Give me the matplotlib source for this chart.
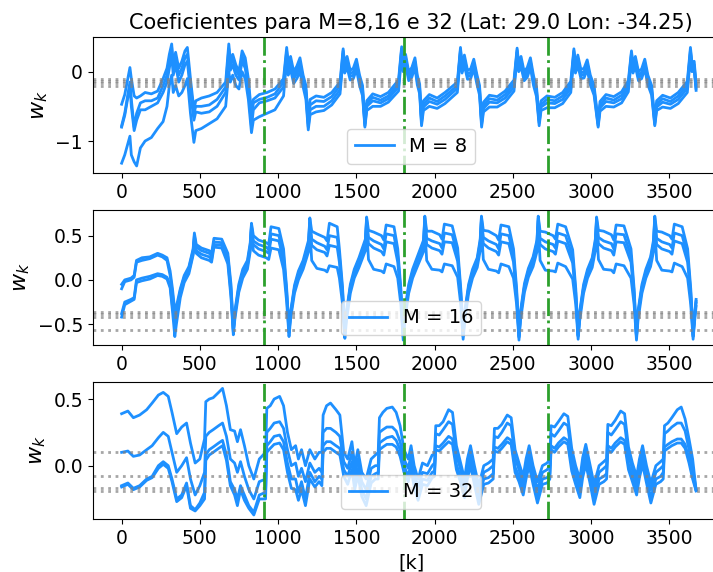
import numpy as np
import matplotlib
matplotlib.use('Agg')
from matplotlib import pyplot as plt

# ---- M = 8 coefficients (4 weights) ----
k8 = [0, 20, 53, 62, 80, 96, 120, 150, 190, 230, 265, 290, 305,
      320, 330, 345, 365, 385, 405, 420, 440, 462, 474, 510, 560, 610, 665,
      685, 695, 710, 730, 750, 770, 790, 810, 830, 842, 880, 930, 980, 1035,
      1055, 1065, 1080, 1100, 1120, 1140, 1160, 1178, 1193, 1205, 1243, 1293, 1343, 1396,
      1416, 1426, 1441, 1461, 1481, 1501, 1521, 1540, 1555, 1567, 1605, 1655, 1705, 1770,
      1790, 1800, 1815, 1835, 1855, 1875, 1890, 1905, 1917, 1929, 1967, 2017, 2067, 2146,
      2166, 2176, 2191, 2211, 2231, 2251, 2271, 2288, 2301, 2313, 2351, 2401, 2451, 2508,
      2528, 2538, 2553, 2573, 2593, 2613, 2633, 2652, 2669, 2681, 2719, 2769, 2819, 2871,
      2891, 2901, 2916, 2936, 2956, 2976, 2996, 3020, 3046, 3058, 3096, 3146, 3196, 3239,
      3259, 3269, 3284, 3304, 3324, 3344, 3364, 3388, 3408, 3420, 3458, 3508, 3558, 3616,
      3636, 3646, 3660, 3672]
w8_a = [-0.47, -0.33, 0.06, -0.10, -0.35, -0.38, -0.35, -0.30, -0.32, -0.28, -0.10, 0.05, 0.25,
        0.40, 0.10, 0.28, 0.05, 0.15, 0.30, 0.35, -0.10, -0.55, -0.42, -0.38, -0.35, -0.30, -0.15,
        0.40, 0.15, 0.25, 0.10, 0.00, 0.30, 0.20, -0.10, -0.60, -0.40, -0.33, -0.30, -0.25, -0.10,
        0.35, 0.12, 0.22, 0.00, 0.08, 0.20, -0.05, -0.20, -0.70, -0.40, -0.35, -0.37, -0.30, -0.15,
        0.33, 0.10, 0.22, 0.02, 0.05, 0.18, -0.05, -0.20, -0.72, -0.42, -0.32, -0.36, -0.30, -0.12,
        0.36, 0.12, 0.25, 0.00, 0.06, 0.20, -0.05, -0.18, -0.68, -0.42, -0.33, -0.38, -0.30, -0.15,
        0.35, 0.10, 0.24, 0.02, 0.04, 0.18, -0.04, -0.20, -0.70, -0.44, -0.34, -0.36, -0.28, -0.12,
        0.34, 0.12, 0.22, 0.00, 0.06, 0.20, -0.06, -0.22, -0.68, -0.42, -0.35, -0.37, -0.30, -0.14,
        0.33, 0.10, 0.24, 0.03, 0.05, 0.17, -0.05, -0.20, -0.72, -0.43, -0.33, -0.36, -0.29, -0.13,
        0.30, 0.10, 0.22, 0.00, 0.04, 0.18, -0.05, -0.20, -0.70, -0.42, -0.34, -0.38, -0.30, -0.14,
        0.35, 0.12, 0.15, -0.18]
w8_b = [-0.78, -0.60, -0.15, -0.40, -0.80, -0.60, -0.45, -0.42, -0.42, -0.38, -0.20, -0.05, 0.15,
        0.35, 0.05, 0.20, -0.05, 0.05, 0.20, 0.25, -0.20, -0.60, -0.50, -0.50, -0.48, -0.40, -0.22,
        0.33, 0.10, 0.18, 0.02, -0.05, 0.22, 0.12, -0.18, -0.70, -0.45, -0.40, -0.37, -0.32, -0.15,
        0.30, 0.08, 0.15, -0.05, 0.02, 0.13, -0.10, -0.27, -0.75, -0.48, -0.42, -0.43, -0.36, -0.20,
        0.30, 0.07, 0.17, -0.03, 0.00, 0.13, -0.10, -0.25, -0.75, -0.46, -0.37, -0.41, -0.35, -0.17,
        0.33, 0.08, 0.20, -0.05, 0.01, 0.15, -0.10, -0.23, -0.71, -0.47, -0.38, -0.43, -0.35, -0.20,
        0.32, 0.06, 0.19, -0.03, -0.01, 0.13, -0.09, -0.25, -0.73, -0.49, -0.39, -0.41, -0.33, -0.17,
        0.31, 0.08, 0.17, -0.05, 0.01, 0.15, -0.11, -0.27, -0.71, -0.47, -0.40, -0.42, -0.35, -0.19,
        0.30, 0.06, 0.19, -0.02, 0.00, 0.12, -0.10, -0.25, -0.75, -0.48, -0.38, -0.41, -0.34, -0.18,
        0.27, 0.06, 0.17, -0.05, -0.01, 0.13, -0.10, -0.25, -0.73, -0.47, -0.39, -0.43, -0.35, -0.19,
        0.31, 0.08, 0.10, -0.21]
w8_c = [-0.80, -0.63, -0.20, -0.50, -0.85, -0.70, -0.55, -0.55, -0.50, -0.45, -0.30, -0.15, 0.05,
        0.25, -0.05, 0.10, -0.15, -0.05, 0.10, 0.15, -0.30, -0.70, -0.58, -0.60, -0.58, -0.50, -0.30,
        0.25, 0.02, 0.10, -0.05, -0.12, 0.15, 0.05, -0.25, -0.80, -0.55, -0.45, -0.42, -0.38, -0.22,
        0.25, 0.03, 0.10, -0.10, -0.03, 0.08, -0.15, -0.32, -0.80, -0.55, -0.50, -0.50, -0.42, -0.26,
        0.26, 0.03, 0.12, -0.07, -0.05, 0.09, -0.14, -0.30, -0.78, -0.50, -0.42, -0.45, -0.39, -0.22,
        0.30, 0.05, 0.16, -0.09, -0.03, 0.11, -0.14, -0.27, -0.74, -0.51, -0.43, -0.47, -0.40, -0.24,
        0.29, 0.03, 0.15, -0.07, -0.05, 0.09, -0.13, -0.29, -0.76, -0.53, -0.44, -0.45, -0.38, -0.22,
        0.28, 0.05, 0.13, -0.09, -0.03, 0.11, -0.15, -0.31, -0.74, -0.51, -0.45, -0.46, -0.40, -0.24,
        0.27, 0.03, 0.15, -0.06, -0.04, 0.08, -0.14, -0.29, -0.78, -0.52, -0.43, -0.45, -0.39, -0.23,
        0.24, 0.03, 0.13, -0.09, -0.05, 0.09, -0.14, -0.29, -0.76, -0.51, -0.44, -0.47, -0.40, -0.24,
        0.27, 0.05, 0.06, -0.24]
w8_d = [-1.32, -1.20, -0.93, -1.20, -1.30, -1.36, -1.10, -1.00, -0.95, -0.82, -0.72, -0.50, -0.20,
        -0.05, -0.30, -0.20, -0.35, -0.30, -0.20, -0.10, -0.60, -1.02, -0.85, -0.82, -0.75, -0.68, -0.50,
        0.00, -0.15, -0.05, -0.20, -0.25, 0.00, -0.10, -0.40, -0.88, -0.70, -0.65, -0.60, -0.55, -0.35,
        0.18, -0.05, 0.03, -0.17, -0.10, 0.00, -0.22, -0.40, -0.84, -0.62, -0.58, -0.56, -0.48, -0.32,
        0.20, -0.02, 0.06, -0.12, -0.10, 0.03, -0.20, -0.35, -0.80, -0.56, -0.50, -0.50, -0.44, -0.28,
        0.25, 0.00, 0.10, -0.13, -0.08, 0.06, -0.19, -0.32, -0.78, -0.56, -0.50, -0.53, -0.46, -0.30,
        0.24, -0.02, 0.09, -0.11, -0.10, 0.04, -0.18, -0.34, -0.80, -0.58, -0.51, -0.51, -0.44, -0.28,
        0.23, 0.00, 0.07, -0.13, -0.08, 0.06, -0.20, -0.36, -0.78, -0.56, -0.52, -0.52, -0.46, -0.30,
        0.22, -0.02, 0.09, -0.10, -0.09, 0.03, -0.19, -0.34, -0.80, -0.57, -0.50, -0.51, -0.45, -0.29,
        0.19, -0.02, 0.07, -0.13, -0.10, 0.04, -0.19, -0.34, -0.78, -0.56, -0.51, -0.53, -0.46, -0.30,
        0.22, 0.00, 0.02, -0.27]

# ---- M = 16 coefficients ----
k16 = [0, 20, 60, 80, 95, 130, 180, 230, 260, 290, 310, 325,
       340, 350, 375, 400, 430, 457, 465, 477, 510, 560, 575, 590, 640, 679, 699,
       714, 724, 749, 774, 804, 822, 830, 842, 875, 925, 940, 955, 1005, 1035, 1055,
       1070, 1080, 1105, 1130, 1160, 1195, 1203, 1215, 1248, 1298, 1313, 1328, 1378, 1392, 1412,
       1427, 1437, 1462, 1487, 1517, 1558, 1566, 1578, 1611, 1661, 1676, 1691, 1741, 1765, 1785,
       1800, 1810, 1835, 1860, 1890, 1930, 1938, 1950, 1983, 2033, 2048, 2063, 2113, 2148, 2168,
       2183, 2193, 2218, 2243, 2273, 2292, 2300, 2312, 2345, 2395, 2410, 2425, 2475, 2505, 2525,
       2540, 2550, 2575, 2600, 2630, 2655, 2663, 2675, 2708, 2758, 2773, 2788, 2838, 2883, 2903,
       2918, 2928, 2953, 2978, 3008, 3028, 3036, 3048, 3081, 3131, 3146, 3161, 3211, 3256, 3276,
       3291, 3301, 3326, 3351, 3381, 3400, 3408, 3420, 3453, 3503, 3518, 3533, 3583, 3618, 3638,
       3653, 3663, 3672]
w16_a = [-0.05, 0.00, 0.02, 0.05, 0.22, 0.25, 0.26, 0.30, 0.28, 0.25, 0.10, -0.10,
         -0.35, -0.30, -0.10, 0.05, 0.15, 0.35, 0.53, 0.40, 0.36, 0.33, 0.30, 0.47, 0.46, 0.30, -0.05,
         -0.55, -0.35, -0.05, 0.12, 0.22, 0.42, 0.64, 0.50, 0.45, 0.42, 0.40, 0.60, 0.58, 0.35, -0.10,
         -0.56, -0.36, -0.06, 0.10, 0.22, 0.45, 0.70, 0.55, 0.52, 0.48, 0.44, 0.64, 0.60, 0.35, -0.08,
         -0.58, -0.36, -0.05, 0.12, 0.25, 0.46, 0.71, 0.56, 0.54, 0.50, 0.45, 0.62, 0.60, 0.35, -0.10,
         -0.60, -0.35, -0.05, 0.12, 0.26, 0.45, 0.72, 0.55, 0.55, 0.51, 0.46, 0.63, 0.61, 0.36, -0.10,
         -0.62, -0.36, -0.05, 0.12, 0.25, 0.46, 0.72, 0.56, 0.55, 0.50, 0.45, 0.62, 0.60, 0.35, -0.10,
         -0.63, -0.35, -0.04, 0.13, 0.26, 0.45, 0.72, 0.55, 0.54, 0.50, 0.46, 0.63, 0.60, 0.34, -0.10,
         -0.62, -0.36, -0.05, 0.12, 0.25, 0.46, 0.71, 0.56, 0.55, 0.51, 0.45, 0.62, 0.61, 0.35, -0.10,
         -0.63, -0.35, -0.05, 0.12, 0.26, 0.45, 0.72, 0.55, 0.54, 0.50, 0.46, 0.63, 0.60, 0.35, -0.10,
         -0.60, -0.38, -0.22]
w16_b = [-0.10, -0.02, 0.00, 0.03, 0.20, 0.22, 0.24, 0.28, 0.26, 0.22, 0.05, -0.15,
         -0.42, -0.36, -0.12, 0.03, 0.13, 0.33, 0.50, 0.37, 0.33, 0.30, 0.27, 0.43, 0.42, 0.26, -0.10,
         -0.57, -0.38, -0.08, 0.09, 0.19, 0.39, 0.62, 0.44, 0.40, 0.37, 0.34, 0.52, 0.50, 0.28, -0.14,
         -0.58, -0.38, -0.09, 0.07, 0.19, 0.42, 0.68, 0.46, 0.42, 0.38, 0.34, 0.50, 0.48, 0.27, -0.13,
         -0.60, -0.39, -0.08, 0.09, 0.22, 0.43, 0.69, 0.48, 0.44, 0.40, 0.35, 0.52, 0.50, 0.27, -0.15,
         -0.62, -0.38, -0.08, 0.09, 0.23, 0.42, 0.70, 0.47, 0.44, 0.41, 0.36, 0.53, 0.51, 0.28, -0.15,
         -0.63, -0.39, -0.08, 0.09, 0.22, 0.43, 0.70, 0.48, 0.44, 0.40, 0.35, 0.52, 0.50, 0.27, -0.15,
         -0.64, -0.38, -0.07, 0.10, 0.23, 0.42, 0.70, 0.47, 0.43, 0.40, 0.36, 0.53, 0.50, 0.26, -0.15,
         -0.63, -0.39, -0.08, 0.09, 0.22, 0.43, 0.69, 0.48, 0.44, 0.41, 0.35, 0.52, 0.51, 0.27, -0.15,
         -0.64, -0.38, -0.08, 0.09, 0.23, 0.42, 0.70, 0.47, 0.43, 0.40, 0.36, 0.53, 0.50, 0.27, -0.15,
         -0.62, -0.40, -0.24]
w16_c = [-0.38, -0.25, -0.22, -0.20, 0.00, 0.02, 0.04, 0.07, 0.06, 0.03, -0.06, -0.30,
         -0.50, -0.42, -0.15, 0.00, 0.10, 0.30, 0.46, 0.33, 0.29, 0.26, 0.23, 0.40, 0.39, 0.22, -0.15,
         -0.59, -0.40, -0.10, 0.06, 0.16, 0.36, 0.60, 0.40, 0.35, 0.32, 0.30, 0.46, 0.44, 0.22, -0.18,
         -0.60, -0.40, -0.11, 0.04, 0.16, 0.38, 0.65, 0.39, 0.34, 0.31, 0.27, 0.39, 0.37, 0.20, -0.19,
         -0.62, -0.41, -0.10, 0.06, 0.19, 0.39, 0.66, 0.41, 0.36, 0.32, 0.28, 0.43, 0.41, 0.20, -0.20,
         -0.64, -0.40, -0.10, 0.06, 0.20, 0.38, 0.67, 0.40, 0.36, 0.33, 0.29, 0.43, 0.42, 0.21, -0.20,
         -0.64, -0.41, -0.10, 0.06, 0.19, 0.39, 0.67, 0.41, 0.36, 0.32, 0.28, 0.43, 0.41, 0.20, -0.20,
         -0.65, -0.40, -0.09, 0.07, 0.20, 0.38, 0.67, 0.40, 0.35, 0.32, 0.29, 0.44, 0.41, 0.19, -0.20,
         -0.64, -0.41, -0.10, 0.06, 0.19, 0.39, 0.66, 0.41, 0.36, 0.33, 0.28, 0.43, 0.42, 0.20, -0.20,
         -0.65, -0.40, -0.10, 0.06, 0.20, 0.38, 0.67, 0.40, 0.35, 0.32, 0.29, 0.44, 0.41, 0.20, -0.20,
         -0.64, -0.42, -0.26]
w16_d = [-0.42, -0.28, -0.24, -0.22, -0.03, -0.01, 0.01, 0.05, 0.04, 0.01, -0.09, -0.35,
         -0.64, -0.50, -0.20, -0.03, 0.07, 0.28, 0.44, 0.30, 0.25, 0.22, 0.20, 0.37, 0.36, 0.18, -0.20,
         -0.62, -0.44, -0.14, 0.02, 0.12, 0.32, 0.56, 0.33, 0.28, 0.25, 0.23, 0.36, 0.34, 0.12, -0.25,
         -0.64, -0.44, -0.15, 0.00, 0.12, 0.32, 0.58, 0.22, 0.13, 0.11, 0.09, 0.16, 0.14, 0.02, -0.27,
         -0.66, -0.46, -0.15, 0.02, 0.14, 0.33, 0.59, 0.23, 0.12, 0.10, 0.08, 0.18, 0.15, 0.02, -0.28,
         -0.68, -0.45, -0.15, 0.02, 0.15, 0.32, 0.60, 0.22, 0.12, 0.11, 0.09, 0.18, 0.16, 0.03, -0.28,
         -0.67, -0.46, -0.15, 0.02, 0.14, 0.33, 0.60, 0.23, 0.12, 0.10, 0.08, 0.18, 0.15, 0.02, -0.28,
         -0.68, -0.45, -0.14, 0.03, 0.15, 0.32, 0.60, 0.22, 0.11, 0.10, 0.09, 0.19, 0.15, 0.01, -0.28,
         -0.67, -0.46, -0.15, 0.02, 0.14, 0.33, 0.59, 0.23, 0.12, 0.11, 0.08, 0.18, 0.16, 0.02, -0.28,
         -0.68, -0.45, -0.15, 0.02, 0.15, 0.32, 0.60, 0.22, 0.11, 0.10, 0.09, 0.19, 0.15, 0.02, -0.28,
         -0.67, -0.46, -0.30]

# ---- M = 32 coefficients ----
k32 = [0, 40, 75, 115, 160, 195, 235, 266, 298, 322, 352, 384, 415, 440, 470, 500,
       530, 538, 560, 585, 620, 645, 670, 695, 722, 740, 760, 785, 813, 845, 880,
       920, 928, 950, 975, 1010, 1035, 1060, 1085, 1112, 1130, 1150, 1175, 1203, 1235, 1262,
       1280, 1288, 1310, 1335, 1370, 1395, 1420, 1445, 1472, 1490, 1510, 1535, 1563, 1595, 1622,
       1640, 1648, 1670, 1695, 1730, 1755, 1780, 1805, 1832, 1850, 1870, 1895, 1923, 1955, 1985,
       2000, 2008, 2030, 2055, 2090, 2115, 2140, 2165, 2192, 2210, 2230, 2255, 2283, 2315, 2345,
       2375, 2383, 2405, 2430, 2465, 2490, 2515, 2540, 2567, 2585, 2605, 2630, 2658, 2690, 2720,
       2737, 2745, 2767, 2792, 2827, 2852, 2877, 2902, 2929, 2947, 2967, 2992, 3020, 3052, 3082,
       3100, 3108, 3130, 3155, 3190, 3215, 3240, 3265, 3292, 3310, 3330, 3355, 3383, 3415, 3445,
       3462, 3470, 3492, 3517, 3552, 3577, 3602, 3627, 3650, 3672]
w32_a = [0.39, 0.41, 0.36, 0.38, 0.42, 0.47, 0.53, 0.55, 0.52, 0.40, 0.24, 0.29, 0.32, 0.17, 0.02, 0.05,
         0.20, 0.48, 0.50, 0.51, 0.55, 0.58, 0.45, 0.27, 0.26, 0.18, 0.27, 0.15, 0.00, -0.10, 0.05,
         0.10, 0.43, 0.45, 0.50, 0.52, 0.45, 0.25, 0.12, 0.15, 0.05, 0.12, 0.00, 0.12, 0.05, 0.10,
         0.10, 0.38, 0.45, 0.47, 0.42, 0.38, 0.10, 0.05, 0.18, 0.00, 0.12, -0.05, -0.10, 0.05, 0.08,
         0.10, 0.36, 0.40, 0.43, 0.44, 0.40, 0.30, 0.12, 0.05, 0.15, 0.00, -0.10, 0.02, 0.00, 0.08,
         0.08, 0.30, 0.30, 0.33, 0.42, 0.40, 0.15, 0.03, -0.10, 0.05, 0.15, 0.00, -0.15, 0.00, 0.02,
         0.05, 0.28, 0.28, 0.31, 0.38, 0.36, 0.12, 0.02, -0.08, 0.05, 0.15, 0.00, -0.12, 0.00, 0.02,
         0.05, 0.30, 0.29, 0.33, 0.39, 0.37, 0.13, 0.00, -0.10, 0.06, 0.16, 0.02, -0.14, 0.00, 0.03,
         0.05, 0.31, 0.30, 0.34, 0.41, 0.39, 0.14, 0.02, -0.08, 0.05, 0.15, 0.00, -0.13, 0.00, 0.03,
         0.05, 0.30, 0.32, 0.36, 0.42, 0.44, 0.35, 0.20, 0.05, -0.18]
w32_b = [0.10, 0.11, 0.07, 0.08, 0.12, 0.15, 0.21, 0.25, 0.22, 0.10, -0.05, 0.00, 0.06, -0.10, -0.22, -0.15,
         -0.05, 0.22, 0.25, 0.27, 0.30, 0.32, 0.22, 0.05, 0.02, -0.05, 0.03, -0.08, -0.18, -0.25, -0.12,
         -0.10, 0.25, 0.28, 0.32, 0.33, 0.28, 0.12, 0.00, 0.02, -0.08, -0.02, -0.12, 0.02, -0.05, -0.02,
         -0.05, 0.25, 0.28, 0.28, 0.25, 0.22, 0.03, -0.02, 0.10, -0.07, 0.05, -0.12, -0.18, -0.02, 0.00,
         0.00, 0.25, 0.27, 0.29, 0.29, 0.26, 0.18, 0.05, -0.02, 0.08, -0.06, -0.16, -0.05, -0.06, 0.00,
         0.02, 0.24, 0.23, 0.27, 0.33, 0.31, 0.08, -0.02, -0.15, 0.00, 0.10, -0.05, -0.20, -0.05, -0.03,
         0.00, 0.22, 0.21, 0.25, 0.32, 0.30, 0.06, -0.03, -0.13, 0.00, 0.10, -0.05, -0.18, -0.05, -0.03,
         0.00, 0.24, 0.22, 0.26, 0.32, 0.30, 0.07, -0.05, -0.15, 0.01, 0.11, -0.03, -0.19, -0.05, -0.02,
         0.00, 0.25, 0.23, 0.27, 0.33, 0.31, 0.08, -0.03, -0.13, 0.00, 0.10, -0.05, -0.18, -0.05, -0.02,
         0.00, 0.24, 0.26, 0.29, 0.32, 0.32, 0.26, 0.12, -0.02, -0.18]
w32_c = [-0.15, -0.13, -0.17, -0.15, -0.10, -0.08, 0.00, 0.03, 0.00, -0.10, -0.25, -0.22, -0.13, -0.30, -0.33, -0.28,
         -0.20, 0.08, 0.12, 0.14, 0.17, 0.19, 0.08, -0.12, -0.18, -0.25, -0.15, -0.22, -0.30, -0.35, -0.22,
         -0.20, 0.15, 0.18, 0.22, 0.23, 0.18, 0.02, -0.10, -0.10, -0.20, -0.12, -0.25, -0.05, -0.12, -0.08,
         -0.10, 0.15, 0.18, 0.18, 0.15, 0.13, -0.03, -0.08, 0.03, -0.13, -0.02, -0.18, -0.25, -0.08, -0.06,
         -0.05, 0.17, 0.19, 0.21, 0.22, 0.19, 0.12, 0.00, -0.08, 0.02, -0.12, -0.22, -0.10, -0.11, -0.05,
         -0.04, 0.15, 0.14, 0.17, 0.22, 0.20, 0.01, -0.08, -0.20, -0.05, 0.05, -0.10, -0.25, -0.10, -0.09,
         -0.06, 0.14, 0.13, 0.16, 0.21, 0.19, -0.01, -0.08, -0.18, -0.05, 0.05, -0.10, -0.24, -0.10, -0.09,
         -0.06, 0.15, 0.13, 0.17, 0.21, 0.19, 0.00, -0.10, -0.20, -0.04, 0.06, -0.08, -0.25, -0.10, -0.08,
         -0.06, 0.15, 0.13, 0.17, 0.21, 0.19, 0.01, -0.08, -0.18, -0.05, 0.05, -0.10, -0.24, -0.10, -0.08,
         -0.05, 0.14, 0.16, 0.18, 0.20, 0.20, 0.16, 0.05, -0.08, -0.18]
w32_d = [-0.16, -0.14, -0.18, -0.16, -0.11, -0.09, -0.02, 0.01, -0.02, -0.12, -0.27, -0.24, -0.15, -0.32, -0.34, -0.30,
         -0.25, 0.04, 0.08, 0.10, 0.13, 0.15, 0.04, -0.15, -0.22, -0.30, -0.18, -0.26, -0.32, -0.37, -0.25,
         -0.25, 0.10, 0.13, 0.16, 0.17, 0.12, -0.05, -0.17, -0.18, -0.26, -0.18, -0.30, -0.10, -0.16, -0.12,
         -0.15, 0.10, 0.13, 0.13, 0.10, 0.08, -0.08, -0.14, -0.03, -0.18, -0.07, -0.23, -0.30, -0.13, -0.10,
         -0.10, 0.12, 0.14, 0.16, 0.16, 0.14, 0.07, -0.05, -0.12, -0.03, -0.16, -0.26, -0.14, -0.15, -0.09,
         -0.08, 0.12, 0.11, 0.14, 0.18, 0.16, -0.03, -0.12, -0.24, -0.10, 0.00, -0.14, -0.29, -0.14, -0.13,
         -0.10, 0.11, 0.10, 0.13, 0.18, 0.16, -0.05, -0.12, -0.22, -0.10, 0.00, -0.14, -0.28, -0.14, -0.13,
         -0.10, 0.12, 0.10, 0.14, 0.18, 0.16, -0.04, -0.14, -0.24, -0.09, 0.01, -0.12, -0.29, -0.14, -0.12,
         -0.10, 0.12, 0.10, 0.14, 0.18, 0.16, -0.03, -0.12, -0.22, -0.09, 0.01, -0.13, -0.28, -0.14, -0.12,
         -0.10, 0.11, 0.13, 0.15, 0.17, 0.17, 0.13, 0.02, -0.10, -0.19]

# reference levels (dotted) and split positions (dash-dot)
ref8 = [-0.11, -0.14, -0.17, -0.20]
ref16 = [-0.358, -0.387, -0.418, -0.564]
ref32 = [0.10, -0.077, -0.17, -0.19]
splits = [910, 1805, 2725]

panels = [
    (8, k8, [w8_a, w8_b, w8_c, w8_d], ref8, (-1.466, 0.496), [-1, 0]),
    (16, k16, [w16_a, w16_b, w16_c, w16_d], ref16, (-0.734, 0.79), [-0.5, 0.0, 0.5]),
    (32, k32, [w32_a, w32_b, w32_c, w32_d], ref32, (-0.40, 0.626), [0.0, 0.5]),
]

fig = plt.figure(figsize=(7.13, 5.72), dpi=100)
bottoms = [0.697, 0.397, 0.0927]
heights = [0.2378, 0.236, 0.239]

for i, (m, kk, ws, refs, ylim, yt) in enumerate(panels):
    ax = fig.add_axes([0.130, bottoms[i], 0.893, heights[i]])
    for j, w in enumerate(ws):
        ax.plot(kk, w, color='dodgerblue', lw=2, label='M = %d' % m if j == 0 else None)
    for r in refs:
        ax.axhline(r, color='gray', ls=':', lw=2, alpha=0.7)
    for s in splits:
        ax.axvline(s, color='tab:green', ls='-.', lw=2)
    ax.set_xlim(-185, 3885)
    ax.set_ylim(*ylim)
    ax.set_yticks(yt)
    ax.set_ylabel('$w_k$', fontsize=16)
    ax.tick_params(labelsize=13.5)
    ax.legend(loc='lower center', fontsize=14)
    if i == 0:
        ax.set_title('Coeficientes para M=8,16 e 32 (Lat: 29.0 Lon: -34.25)', fontsize=15)
    if i == 2:
        ax.set_xlabel('[k]', fontsize=14)

fig.savefig('out.png', dpi=100)
